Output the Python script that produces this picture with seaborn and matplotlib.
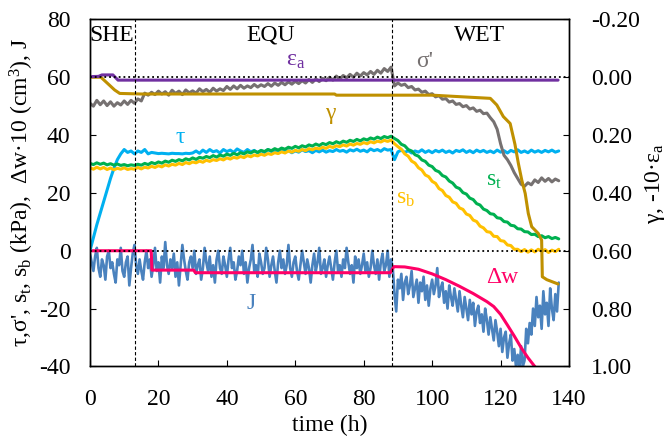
import numpy as np
import matplotlib
matplotlib.use("Agg")
import matplotlib.pyplot as plt
import seaborn as sns

# ---- hourly records (t = 0 ... 137 h) ----
hours = list(range(138))

tau_kpa = [
    0, 4.5, 9, 13, 17, 21, 25, 28.5, 31.5, 33.5,
    35, 34, 34.5, 33.5, 34.5, 34, 35, 33.5, 34, 33.8,
    33.6, 33.7, 33.6, 33.5, 33.7, 33.6, 33.6, 33.5, 33.7, 33.6,
    33.8, 34.5, 33.7, 34.8, 34, 35, 34.2, 34.6, 33.8, 35,
    34.3, 34.8, 34, 35.2, 34.5, 34, 35, 34.2, 34.7, 33.9,
    34.6, 34, 35, 34.3, 34.5, 33.8, 34.8, 34.2, 34.6, 33.9,
    34.5, 34.1, 34.9, 34.3, 34.6, 33.9, 34.7, 34.2, 34.8, 34.1,
    34.6, 34.3, 35, 34.4, 34.7, 34.1, 34.9, 34.5, 35.1, 34.4,
    34.8, 34.2, 35.2, 34.6, 35, 34.4, 35.3, 34.8, 35, 31.5,
    34.2, 34.8, 34, 34.6, 33.8, 34.5, 34.1, 34.9, 34, 34.6,
    33.9, 34.7, 34.2, 34.8, 34, 34.5, 33.8, 34.7, 34.3, 34.9,
    34, 34.6, 33.9, 34.8, 34.2, 34.7, 34, 34.5, 33.9, 34.8,
    34.1, 34.6, 33.8, 34.7, 34.2, 34.9, 34, 34.5, 33.9, 34.8,
    34.1, 34.6, 34, 34.7, 34.2, 34.8, 34.1, 34.5,
]

suction_top = [
    30.2, 29.8, 30.4, 29.9, 30.3, 29.7, 30.1, 29.6, 30.0, 29.5,
    29.8, 29.4, 29.7, 29.5, 29.9, 29.6, 30.2, 29.8, 30.5, 30.1,
    30.7, 30.3, 31.0, 30.6, 31.3, 30.9, 31.5, 31.1, 31.8, 31.4,
    32.1, 31.6, 32.3, 32.0, 32.6, 32.2, 32.9, 32.4, 33.1, 32.7,
    33.4, 33.0, 33.7, 33.2, 33.9, 33.5, 34.2, 33.8, 34.5, 34.0,
    34.7, 34.3, 35.0, 34.6, 35.3, 34.8, 35.5, 35.1, 35.8, 35.4,
    36.1, 35.6, 36.3, 35.9, 36.6, 36.2, 36.9, 36.4, 37.1, 36.7,
    37.4, 37.0, 37.7, 37.2, 37.9, 37.5, 38.2, 37.8, 38.5, 38.0,
    38.7, 38.3, 39.0, 38.6, 39.3, 38.8, 39.5, 39.1, 39.6, 38.8,
    38.1, 36.8, 36.3, 35.0, 34.5, 33.2, 32.7, 31.4, 30.9, 29.6,
    29.1, 27.8, 27.3, 26.0, 25.5, 24.1, 23.4, 22.0, 21.5, 20.1,
    19.6, 18.2, 17.7, 16.3, 15.8, 14.4, 13.9, 12.8, 12.6, 11.4,
    11.2, 10.1, 9.9, 8.8, 8.6, 7.6, 7.5, 6.6, 6.5, 5.6,
    5.7, 4.9, 5.2, 4.5, 4.9, 4.2, 4.6, 4.1,
]

suction_bottom = [
    28.7, 28.2, 28.9, 28.3, 28.8, 28.1, 28.6, 28.0, 28.5, 28.2,
    28.7, 28.1, 28.4, 28.2, 28.8, 28.3, 28.9, 28.6, 29.2, 28.8,
    29.4, 29.0, 29.7, 29.3, 29.9, 29.6, 30.2, 29.8, 30.5, 30.1,
    30.7, 30.4, 31.0, 30.6, 31.3, 30.9, 31.5, 31.2, 31.8, 31.4,
    32.1, 31.7, 32.3, 32.0, 32.6, 32.2, 32.9, 32.5, 33.1, 32.8,
    33.4, 33.0, 33.6, 33.3, 33.9, 33.6, 34.2, 33.8, 34.5, 34.1,
    34.7, 34.4, 35.0, 34.6, 35.3, 34.9, 35.5, 35.2, 35.8, 35.4,
    36.1, 35.7, 36.3, 36.0, 36.6, 36.2, 36.9, 36.5, 37.1, 36.8,
    37.4, 37.0, 37.7, 37.3, 37.9, 37.6, 38.2, 37.8, 38.3, 37.0,
    36.0, 35.1, 33.5, 32.7, 31.0, 30.3, 28.7, 27.9, 26.2, 25.6,
    24.0, 23.3, 21.5, 20.8, 19.1, 18.5, 16.9, 16.4, 14.8, 14.3,
    12.7, 12.2, 10.6, 10.1, 8.5, 7.9, 6.6, 6.4, 5.0, 4.9,
    3.5, 3.3, 2.0, 1.8, 0.5, 0.5, -0.3, 0.4, -0.5, 0.3,
    -0.4, 0.5, -0.2, 0.4, -0.6, 0.2, -0.3, 0.5,
]

sigma_eff = [
    51, 50, 52, 50.5, 51.8, 50.2, 51.5, 50, 51.2, 50.4,
    51.8, 50.6, 52, 51, 52.5, 51.8, 54.5, 53.8, 54.8, 54,
    55.2, 54.2, 55, 53.8, 55.5, 54.4, 55.2, 54, 55.6, 54.6,
    55.3, 54.5, 56, 55, 55.8, 54.8, 56.2, 55.2, 56, 55.4,
    56.8, 55.8, 57, 56, 57.2, 56.2, 57, 56.4, 57.5, 56.6,
    57.4, 56.8, 57.8, 56.9, 58, 57.2, 58.2, 57.4, 58.4, 57.6,
    58.6, 57.8, 58.8, 58, 59.2, 58.2, 59.4, 58.5, 59.6, 58.8,
    60, 59, 60.4, 59.4, 60.6, 59.8, 61, 60, 61.4, 60.4,
    61.6, 60.8, 62, 61, 62.4, 61.4, 63, 62, 63.5, 57,
    58, 57.2, 57.6, 56.4, 56.8, 55.6, 55.9, 54.8, 55.2, 54,
    54.3, 53.2, 53.6, 52.4, 52.6, 51.4, 51.8, 50.6, 50.9, 49.8,
    50.2, 49, 49.4, 48.2, 48.6, 47.4, 47.6, 46, 44.6, 42,
    37, 33, 31.5, 29.5, 27, 25, 23, 22.3, 23.5, 22.8,
    24.5, 23.6, 25.2, 24, 25, 23.8, 24.8, 24.2,
]

# ---- half-hourly water flux J (t = 0 ... 137 h) ----
half_hours = [i / 2 for i in range(275)]
flux_j = [
    -1, -4, -7, -2, 1, -6, -9, -3, -5, -10, -2, 0, -6, -4, -8, -11, -3, -5, 1, -7,
    -9, -4, -2, -12, -6, -1, 2, -5, -8, -3, -7, -10, -4, 0, -6, -3, -9, -5, 1, -7,
    -4, -11, -2, -6, 3, -5, -8, -3, -6, -1, -9, -4, -12, -5, 2, -3, -7, -10, -4, -2,
    -6, 0, -8, -5, -3, -10, -6, 1, -4, -7, -2, -9, -5, -11, -3, 0, -6, -8, -2, -5,
    -9, -3, 1, -6, -4, -10, -7, -2, -5, 0, -8, -4, -11, -6, -3, 2, -7, -5, -9, -1,
    -4, -8, -6, 1, -3, -9, -5, -2, -7, -11, -4, 0, -6, -3, -8, -5, 2, -6, -9, -4,
    -2, -7, -10, -5, 0, -4, -8, -3, -6, -11, -5, -1, -7, -4, 1, -8, -6, -3, -9, -5,
    -2, -6, -10, -4, 0, -7, -5, -9, -3, -6, 1, -4, -8, -5, -11, -2, -6, -3, -8, -5,
    -1, -7, -4, -9, -6, 0, -5, -8, -3, -10, -4, -1, -7, -5, 0, -9, -3, -6, -15, -21,
    -10, -13, -8, -17, -11, -9, -15, -12, -7, -16, -13, -10, -18, -11, -14, -9, -17, -12, -19, -13,
    -10, -15, -12, -6, -16, -13, -11, -18, -14, -20, -12, -16, -19, -13, -17, -21, -14, -19, -23, -16,
    -20, -24, -17, -22, -18, -26, -21, -19, -25, -22, -28, -20, -24, -29, -23, -27, -31, -24, -28, -33,
    -27, -35, -30, -28, -37, -32, -29, -38, -34, -40, -36, -41, -33, -40, -38, -27, -32, -25, -29, -20,
    -26, -16, -23, -19, -27, -14, -22, -18, -26, -13, -20, -24, -15, -21, -11,
]

# ---- water volume change (x10, cm^3) ----
dw_time = [0, 17.9, 18.1, 30.3, 30.8, 87.8, 88.8, 92, 96, 100, 104, 108,
           112, 116, 118, 120, 122, 124, 126, 128, 130.3]
dw_x10 = [0, 0, -6.7, -6.7, -7.6, -7.6, -5.5, -5.6, -6.4, -8.0, -10.0, -12.3,
          -14.8, -17.6, -19.3, -22.0, -25.7, -29.5, -33.5, -37.0, -40.5]

# ---- shear strain and axial strain (right axis) ----
gamma_time = [0, 3.2, 7.2, 8.7, 15, 71.5, 72, 100, 117, 118.9, 120.8, 122.8,
              124.2, 125.2, 126.2, 127.2, 128.1, 129.1, 131, 132, 132.2, 133.5, 136.8]
gamma = [0.0, 0.0, 0.044, 0.056, 0.058, 0.058, 0.062, 0.062, 0.073, 0.096, 0.136,
         0.16, 0.232, 0.298, 0.356, 0.402, 0.471, 0.517, 0.54, 0.563, 0.69, 0.70, 0.715]

eps_time = [0, 2.5, 3.5, 6.7, 8.2, 136.8]
eps_a = [0.0002, 0.0003, 0.0008, 0.0008, -0.001, -0.001]

# ---- stages ----
phase_bounds = [13.2, 88.4]
phase_names = ["SHE", "EQU", "WET"]
phase_label_t = [6.4, 52.8, 113.9]

time_ticks = [0, 20, 40, 60, 80, 100, 120, 140]
left_ticks = [-40, -20, 0, 20, 40, 60, 80]
right_ticks = [-0.2, 0.0, 0.2, 0.4, 0.6, 0.8, 1.0]

C_TAU = "#00B0F0"
C_ST = "#00B050"
C_SB = "#FFC000"
C_SIG = "#767171"
C_J = "#4A82BE"
C_DW = "#FF0066"
C_GAM = "#BF9000"
C_EPS = "#7030A0"

sns.set_theme(style="ticks")
plt.rcParams["font.family"] = ["Liberation Serif", "DejaVu Serif"]
plt.rcParams["mathtext.fontset"] = "custom"
plt.rcParams["mathtext.rm"] = "Liberation Serif"
plt.rcParams["mathtext.it"] = "Liberation Serif"
plt.rcParams["axes.edgecolor"] = "black"
plt.rcParams["axes.unicode_minus"] = False

FS = 17

fig = plt.figure(figsize=(6.71, 4.43), dpi=100)
ax = fig.add_axes([0.1341, 0.1729, 0.7139, 0.7833])
ax2 = ax.twinx()

lw = 2.2
sns.lineplot(x=half_hours, y=flux_j, ax=ax, color=C_J, lw=1.9, estimator=None, sort=False)
sns.lineplot(x=dw_time, y=dw_x10, ax=ax, color=C_DW, lw=lw, estimator=None, sort=False)
sns.lineplot(x=hours, y=tau_kpa, ax=ax, color=C_TAU, lw=lw, estimator=None, sort=False)
sns.lineplot(x=hours, y=suction_bottom, ax=ax, color=C_SB, lw=lw, estimator=None, sort=False)
sns.lineplot(x=hours, y=suction_top, ax=ax, color=C_ST, lw=lw, estimator=None, sort=False)
sns.lineplot(x=hours, y=sigma_eff, ax=ax, color=C_SIG, lw=lw, estimator=None, sort=False)

neg10_eps = [-10 * e for e in eps_a]
sns.lineplot(x=gamma_time, y=gamma, ax=ax2, color=C_GAM, lw=lw, estimator=None, sort=False)
sns.lineplot(x=eps_time, y=neg10_eps, ax=ax2, color=C_EPS, lw=lw, estimator=None, sort=False)

# reference lines: zero of the left scale and zero of the right scale
ax2.axhline(0.0, color="black", ls=":", lw=1.3)
ax2.axhline(0.6, color="black", ls=":", lw=1.3)
for tb in phase_bounds:
    ax2.axvline(tb, color="black", ls=(0, (3, 2)), lw=0.8)

ax.set_xlim(0, 140)
ax.set_ylim(-40, 80)
ax2.set_ylim(1.0, -0.2)
ax.set_xticks(time_ticks)
ax.set_yticks(left_ticks)
ax2.set_yticks(right_ticks)
ax2.set_yticklabels([f"{v:.2f}" for v in right_ticks])

ax.tick_params(axis="x", direction="in", length=4, width=0.8, labelsize=FS, pad=16,
               colors="black", top=False)
ax.tick_params(axis="y", direction="in", length=4, width=0.8, labelsize=FS, pad=14,
               colors="black", right=False)
ax2.tick_params(axis="y", direction="in", length=4, width=0.8, labelsize=FS, pad=16,
                colors="black")
for a in (ax, ax2):
    for sp in a.spines.values():
        sp.set_visible(True)
        sp.set_color("black")
        sp.set_linewidth(1.0)
ax.set_xlabel("time (h)", fontsize=FS, color="black", labelpad=4)
ax.set_ylabel("")
ax2.set_ylabel("")

fig.text(0.032, 0.566,
         r"τ,σ', s$_\mathregular{t}$, s$_\mathregular{b}$ (kPa),  Δw·10 (cm$^\mathregular{3}$), J",
         rotation=90, ha="center", va="center", fontsize=FS, color="black")
fig.text(0.976, 0.585, r"γ, -10·ε$_\mathregular{a}$",
         rotation=90, ha="center", va="center", fontsize=FS, color="black")

for name, tx in zip(phase_names, phase_label_t):
    ax.text(tx, 74.6, name, ha="center", va="center", fontsize=FS, color="black")

ax.text(60.2, 65.9, r"ε$_\mathregular{a}$", ha="center", va="center", fontsize=FS, color=C_EPS)
ax.text(97.9, 65.6, "σ'", ha="center", va="center", fontsize=FS, color=C_SIG)
ax.text(70.2, 47.6, "γ", ha="center", va="center", fontsize=FS, color=C_GAM)
ax.text(26.3, 39.3, "τ", ha="center", va="center", fontsize=FS, color=C_TAU)
ax.text(118.1, 24.4, r"s$_\mathregular{t}$", ha="center", va="center", fontsize=FS, color=C_ST)
ax.text(92.1, 17.9, r"s$_\mathregular{b}$", ha="center", va="center", fontsize=FS, color=C_SB)
ax.text(120.6, -9.1, "Δw", ha="center", va="center", fontsize=FS, color=C_DW)
ax.text(47.0, -18.3, "J", ha="center", va="center", fontsize=FS, color=C_J)

fig.savefig("out.png", dpi=100)
